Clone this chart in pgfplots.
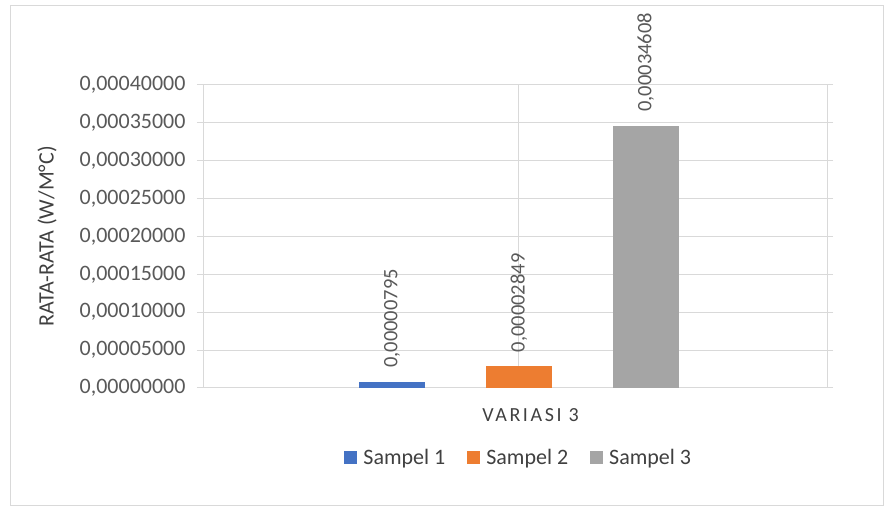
\documentclass[border=0pt]{standalone}
\usepackage{pgfplots}
\pgfplotsset{compat=1.18}
\usepackage{fontspec}
\setmainfont{Carlito}
\definecolor{c1}{HTML}{4472C4}
\definecolor{c2}{HTML}{ED7D31}
\definecolor{c3}{HTML}{A5A5A5}
\definecolor{gridc}{HTML}{D9D9D9}
\definecolor{tickc}{HTML}{595959}
\definecolor{labc}{HTML}{404040}
\begin{document}
\begin{tikzpicture}
\useasboundingbox (0bp,0bp) rectangle (894bp,512bp);
\draw[color=gridc, line width=1bp] (10bp,6bp) rectangle (883bp,506bp);
\begin{axis}[
  at={(203bp,124bp)}, anchor=south west,
  scale only axis, width=624bp, height=303bp,
  xmin=-0.49, xmax=4.43, ymin=0, ymax=0.0004,
  ytick={0,0.00005,0.0001,0.00015,0.0002,0.00025,0.0003,0.00035,0.0004},
  xtick={-0.49,2,4.43}, xticklabels={},
  xmajorgrids, ymajorgrids,
  grid style={color=gridc, line width=1bp},
  axis line style={color=gridc, line width=1bp},
  tick align=outside, major tick length=6bp,
  ytick style={color=gridc, line width=1bp},
  xtick style={draw=none},
  scaled y ticks=false,
  /pgf/number format/assume math mode=true,
  yticklabel style={font=\fontsize{22bp}{24bp}\selectfont, color=tickc, xshift=-8bp,
    /pgf/number format/fixed, /pgf/number format/fixed zerofill,
    /pgf/number format/precision=8, /pgf/number format/use comma},
  ylabel={RATA-RATA (W/M°C)},
  ylabel style={at={(axis description cs:-0.25,0.5)}, anchor=center, rotate=0,
    font=\fontsize{22bp}{24bp}\selectfont, color=labc},
  xlabel={\addfontfeature{LetterSpace=13}VARIASI 3},
  xlabel style={at={(axis description cs:0.525,-0.09)}, anchor=center,
    font=\fontsize{20bp}{22bp}\selectfont, color=labc},
  ybar, bar width=0.52, bar shift=0pt,
  nodes near coords,
  every node near coord/.append style={rotate=90, anchor=west, inner xsep=14bp, inner ysep=0pt,
    font=\fontsize{20.5bp}{22bp}\selectfont, color=tickc,
    /pgf/number format/fixed, /pgf/number format/fixed zerofill,
    /pgf/number format/precision=8, /pgf/number format/use comma},
  legend style={at={(axis description cs:0.506,-0.231)}, anchor=center, draw=none,
    font=\fontsize{22bp}{24bp}\selectfont, text=labc,
    /tikz/every odd column/.append style={column sep=4bp},
    /tikz/every even column/.append style={column sep=20bp}},
  legend columns=3,
  legend image code/.code={\fill[#1] (0bp,-6.5bp) rectangle (13bp,6.5bp);},
]
\addplot[fill=c1, draw=none] coordinates {(1,0.00000795)};
\addplot[fill=c2, draw=none] coordinates {(2,0.00002849)};
\addplot[fill=c3, draw=none] coordinates {(3,0.00034608)};
\legend{Sampel 1,Sampel 2,Sampel 3}
\end{axis}
\end{tikzpicture}
\end{document}
